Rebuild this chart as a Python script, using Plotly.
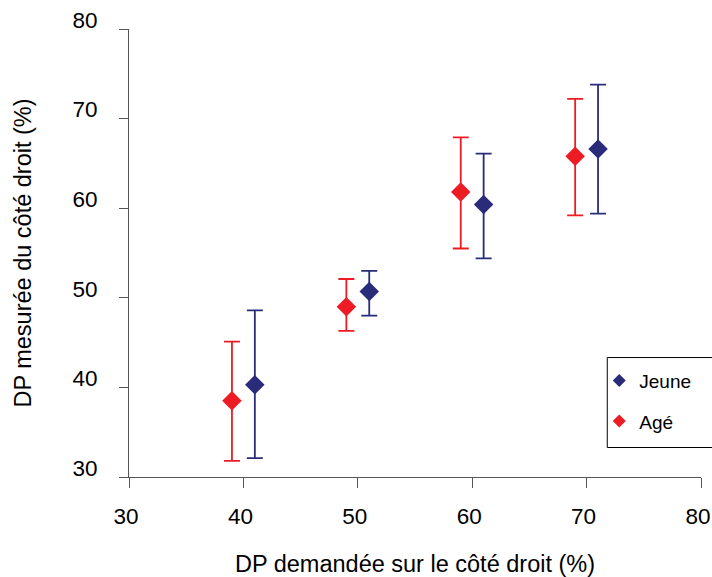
import plotly.graph_objects as go

# Data
x_jeune = [41, 51, 61, 71]
y_jeune = [40.3, 50.7, 60.4, 66.6]
up_jeune = [48.6, 53.0, 66.1, 73.8]
lo_jeune = [32.1, 48.0, 54.4, 59.4]

x_age = [39, 49, 59, 69]
y_age = [38.5, 49.0, 61.8, 65.8]
up_age = [45.1, 52.1, 67.9, 72.2]
lo_age = [31.8, 46.3, 55.5, 59.2]

navy = "#2A2C7A"
red = "#ED1C24"
axis_col = "#555555"
font_family = "Liberation Sans, Arial, sans-serif"

L, R, T, B = 129, 11.3, 29.3, 99.5
W, H = 712, 577
PW, PH = W - L - R, H - T - B

fig = go.Figure()

def add_series(xs, ys, ups, los, color, name, group):
    fig.add_trace(go.Scatter(
        x=xs, y=ys, mode="markers", showlegend=False,
        marker=dict(symbol="diamond", size=15, color=color),
        error_y=dict(type="data", symmetric=False,
                     array=[u - y for u, y in zip(ups, ys)],
                     arrayminus=[y - l for l, y in zip(los, ys)],
                     color=color, thickness=1.8, width=8),
        cliponaxis=False,
    ))
    fig.add_trace(go.Scatter(
        x=[None], y=[None], mode="markers", name=name, legendgroup=group,
        marker=dict(symbol="diamond", size=10, color=color),
    ))

add_series(x_jeune, y_jeune, up_jeune, lo_jeune, navy, "Jeune", "g1")
add_series(x_age, y_age, up_age, lo_age, red, "Agé", "g2")

fig.add_shape(type="rect", xref="paper", yref="paper",
              x0=(607 - L) / PW, x1=1.1, y0=(H - B - 448) / PH, y1=(H - B - 358) / PH,
              line=dict(color="black", width=1), fillcolor="rgba(0,0,0,0)", layer="above")

fig.update_layout(
    width=W, height=H,
    margin=dict(l=L, r=R, t=T, b=B, autoexpand=False),
    paper_bgcolor="white", plot_bgcolor="white",
    font=dict(family=font_family, size=22, color="black"),
    legend=dict(x=(599 - L) / PW, y=(H - B - 362) / PH, xanchor="left", yanchor="top",
                bgcolor="rgba(0,0,0,0)", borderwidth=0,
                font=dict(size=19), traceorder="grouped", tracegroupgap=13),
    xaxis=dict(range=[30, 80], dtick=10, tick0=30, showline=True, linecolor=axis_col, linewidth=1,
               ticks="outside", ticklen=10, tickcolor=axis_col, showgrid=False, zeroline=False,
               automargin=False,
               tickfont=dict(size=22.5), ticklabelstandoff=9, ticklabelshift=-3,
               title=dict(text="DP demandée sur le côté droit (%)", font=dict(size=23.5), standoff=32)),
    yaxis=dict(range=[30, 80], dtick=10, tick0=30, showline=True, linecolor=axis_col, linewidth=1,
               ticks="outside", ticklen=9, tickcolor=axis_col, showgrid=False, zeroline=False,
               automargin=False,
               tickfont=dict(size=22.5), ticklabelstandoff=17, ticklabelshift=-9,
               title=dict(text="DP mesurée du côté droit (%)", font=dict(size=23.5), standoff=34)),
)

fig.write_html("out.html", config={"displayModeBar": False},
               post_script="document.body.style.margin='0';document.body.style.padding='0';")
